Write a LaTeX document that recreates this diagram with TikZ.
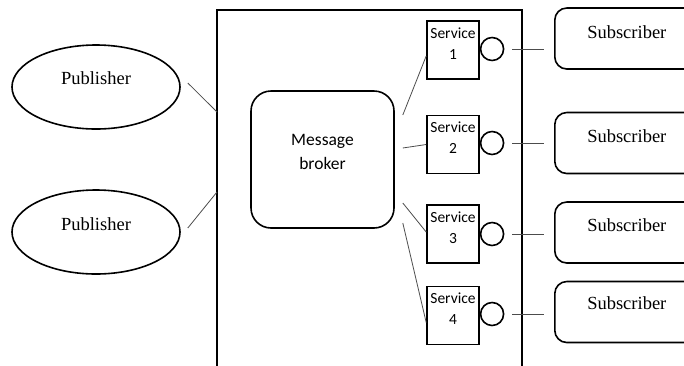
\documentclass[tikz,border=0pt]{standalone}
\usepackage{fontspec}
\setmainfont{Liberation Serif}
\newfontfamily\carlitofont{Carlito}
\usetikzlibrary{shapes.geometric}
\begin{document}
\begin{tikzpicture}[x=1pt,y=-1pt,
  shp/.style={draw=black,line width=1.6pt},
  pub/.style={shp,ellipse,minimum width=168pt,minimum height=84pt,inner sep=0pt},
  sub/.style={shp,rounded corners=12pt,minimum width=160pt,minimum height=61pt,inner sep=0pt,anchor=west},
  svc/.style={shp,minimum width=52pt,minimum height=58pt,inner sep=0pt},
  port/.style={shp,circle,minimum size=23pt,inner sep=0pt,anchor=west},
  conn/.style={draw=black!70,line width=0.8pt},
  ser/.style={font=\fontsize{18.5}{22}\selectfont},
  san/.style={font=\carlitofont\fontsize{15.5}{21}\selectfont,align=center}
]
\useasboundingbox (0,0) rectangle (684,365);
% container
\draw[shp] (217,370) -- (217,10) -- (522,10) -- (522,370);
% publishers
\node[pub,label={[ser,yshift=9pt]center:Publisher}] (p1) at (96,87) {};
\node[pub,label={[ser,yshift=8pt]center:Publisher}] (p2) at (96,232) {};
\coordinate (k1) at (217,112);
\coordinate (k2) at (217,192);
\path (p1.east) ++(7,-4) coordinate (a1);
\path (p2.east) ++(7,-4) coordinate (a2);
\draw[conn] (a1) -- (k1);
\draw[conn] (a2) -- (k2);
% broker
\node[shp,rounded corners=20pt,minimum width=143pt,minimum height=137pt,inner sep=0pt,
  label={[san,font=\carlitofont\fontsize{17.5}{24}\selectfont,yshift=8pt]center:Message\\broker}] (b) at (322.5,159.5) {};
% services
\node[svc,label={[san,yshift=6.5pt]center:Service\\1}] (s1) at (453,50) {};
\node[svc,label={[san,yshift=6.5pt]center:Service\\2}] (s2) at (453,144.5) {};
\node[svc,label={[san,yshift=6.5pt]center:Service\\3}] (s3) at (453,234) {};
\node[svc,label={[san,yshift=6.5pt]center:Service\\4}] (s4) at (453,315.5) {};
% ports
\node[port] (c1) at ([yshift=1pt]s1.east) {};
\node[port] (c2) at ([yshift=1.5pt]s2.east) {};
\node[port] (c3) at (s3.east) {};
\node[port] (c4) at ([yshift=1.5pt]s4.east) {};
% subscribers
\node[sub,label={[ser,xshift=-8pt,yshift=6.5pt]center:Subscriber}] (u1) at (554,38.5) {};
\node[sub,label={[ser,xshift=-8pt,yshift=7pt]center:Subscriber}] (u2) at (554,143) {};
\node[sub,label={[ser,xshift=-8pt,yshift=7.5pt]center:Subscriber}] (u3) at (554,232.5) {};
\node[sub,label={[ser,xshift=-8pt,yshift=9pt]center:Subscriber}] (u4) at (554,312) {};
% port to subscriber lines
\foreach \i in {1,2,3,4}{
  \draw[conn,shorten <=8pt,shorten >=10pt] (c\i.east) -- (u\i.west |- c\i.center);
}
% broker to services
\path (b.east) ++(8,-44.5) coordinate (m1);
\path (b.east) ++(8,-11.5) coordinate (m2);
\path (b.east) ++(8,43.5) coordinate (m3);
\path (b.east) ++(8,63.5) coordinate (m4);
\draw[conn] (m1) -- ([yshift=-6pt]s1.west);
\draw[conn] (m2) -- (s2.west);
\draw[conn] (m3) -- ([yshift=2pt]s3.west);
\draw[conn] (m4) -- ([yshift=-7pt]s4.west);
\end{tikzpicture}
\end{document}
